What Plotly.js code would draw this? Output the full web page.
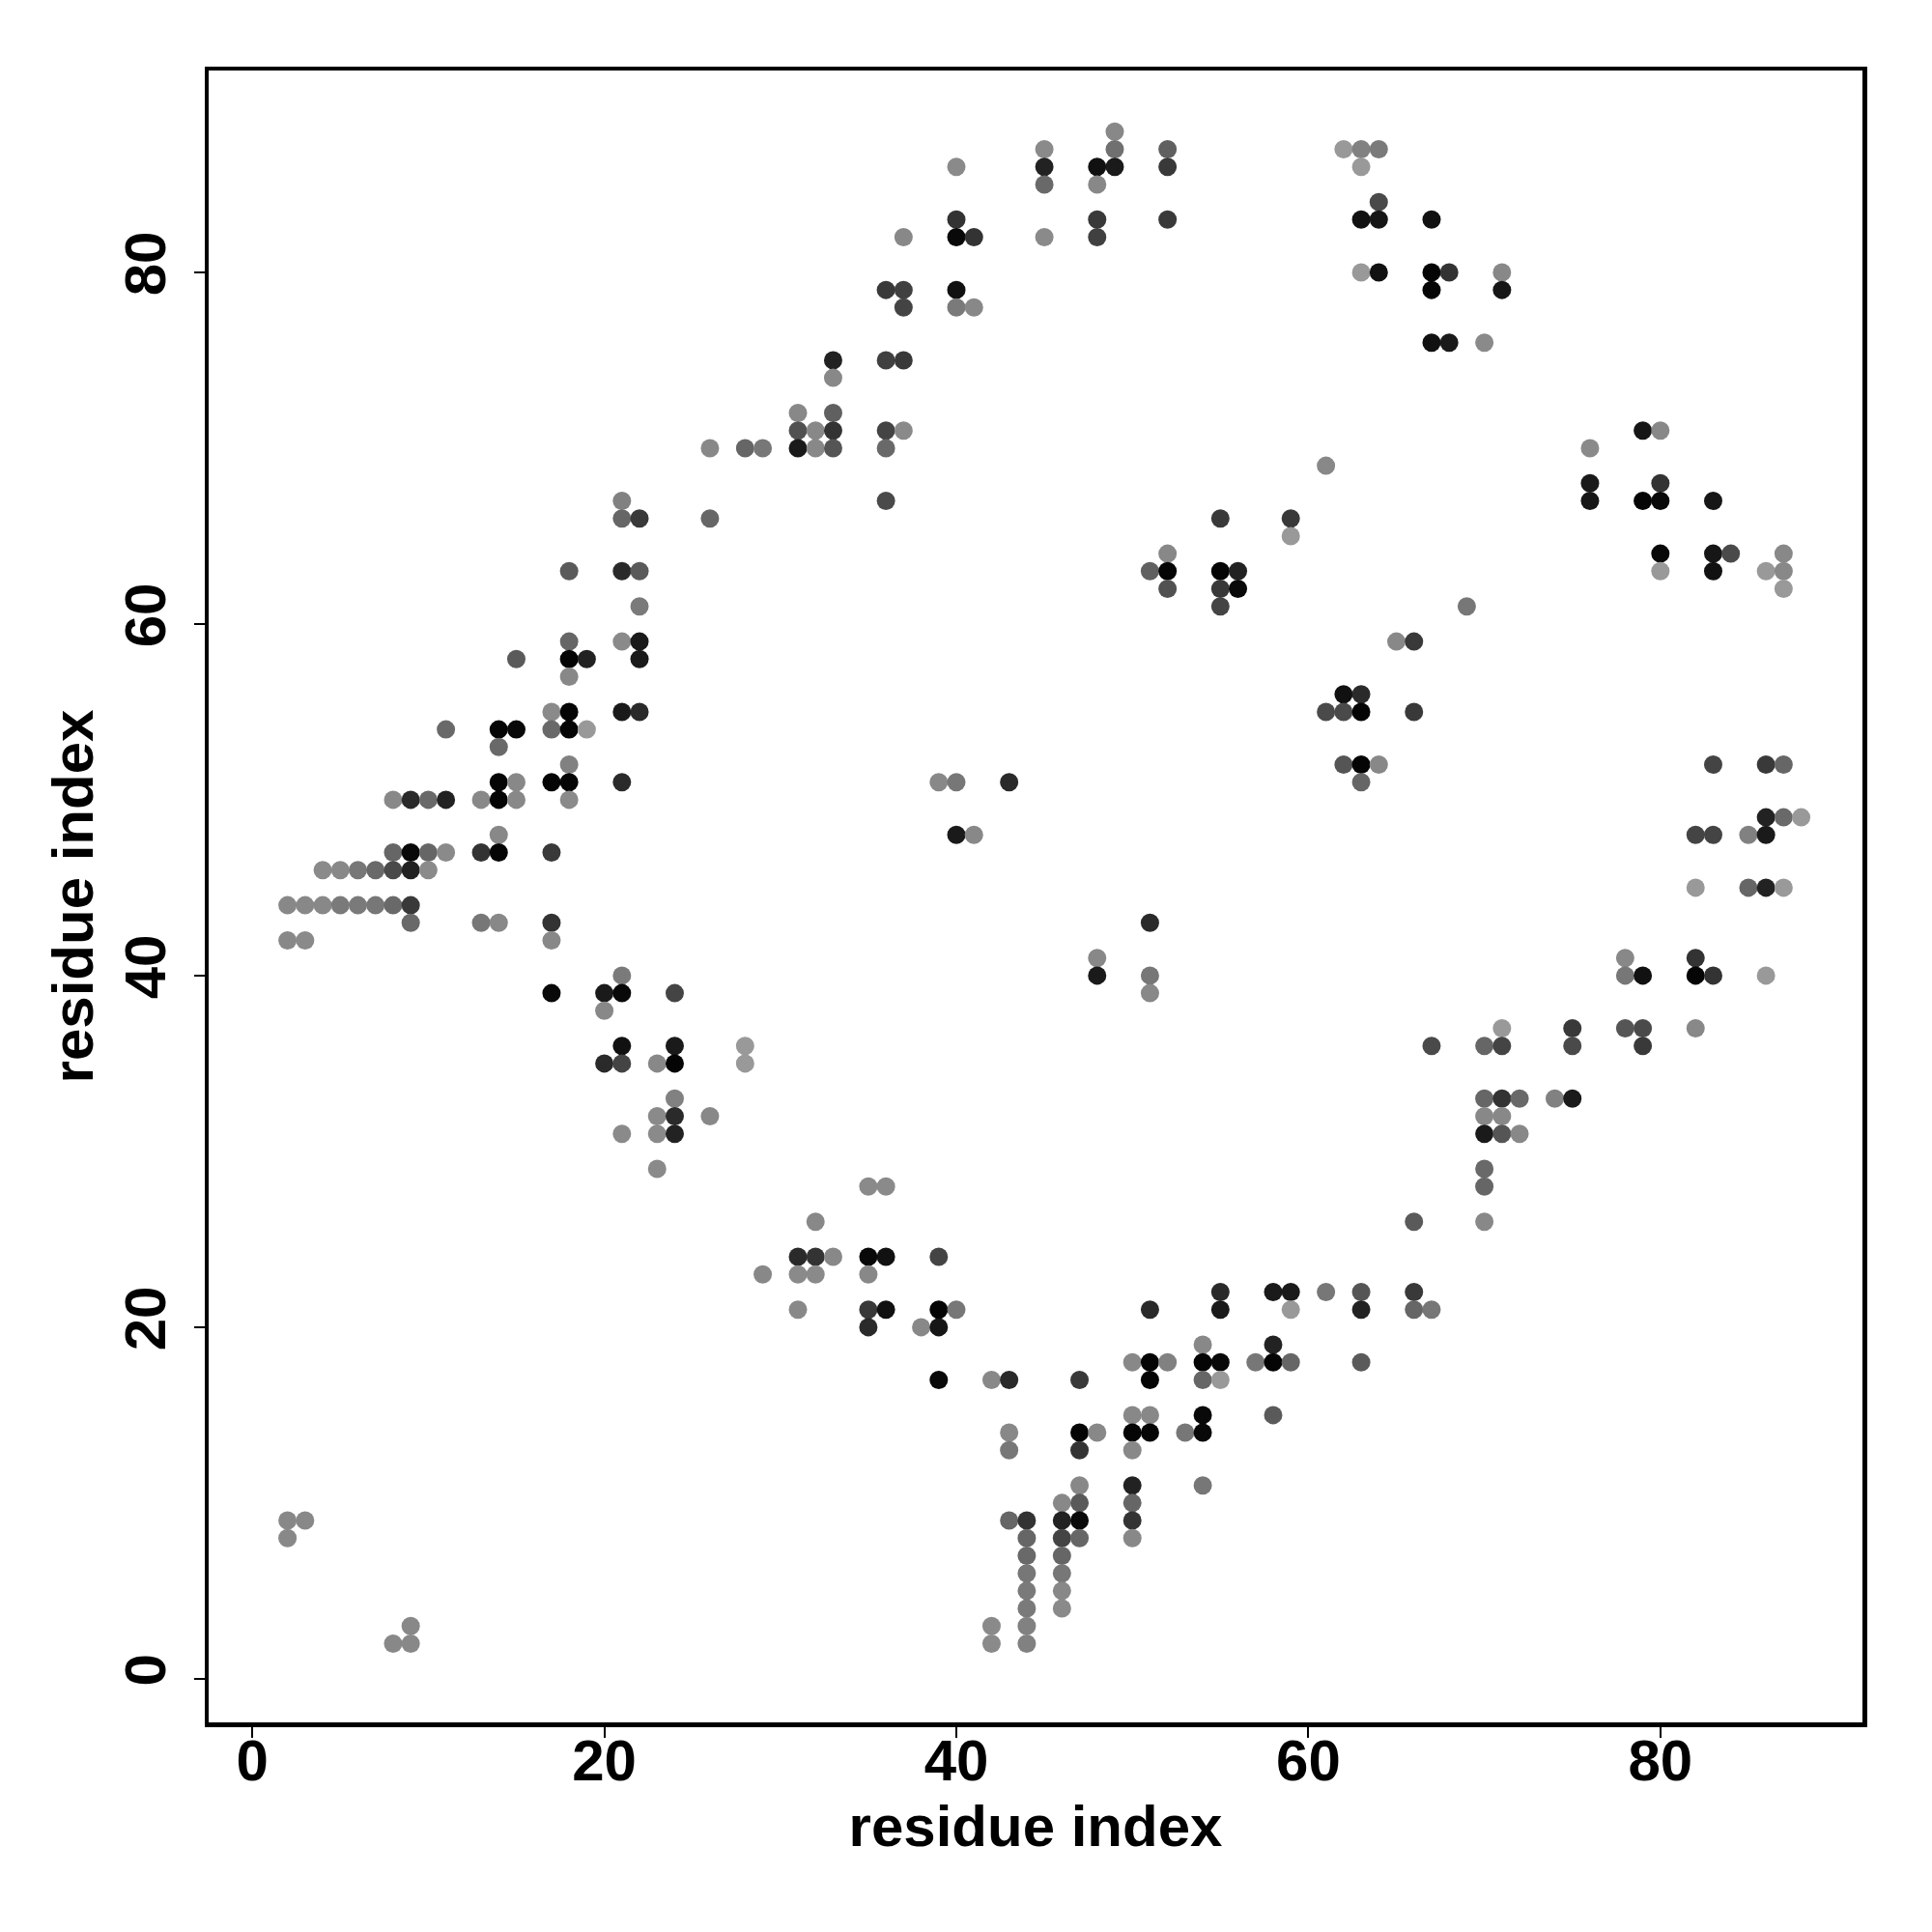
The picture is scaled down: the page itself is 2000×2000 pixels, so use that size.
<!DOCTYPE html>
<html>
<head>
<meta charset="utf-8">
<script src="https://cdn.plot.ly/plotly-3.0.1.min.js"></script>
<style>html,body{margin:0;padding:0;background:#fff;}</style>
</head>
<body>
<div id="chart" style="width:2000px;height:2000px;"></div>
<script>
// residue pair (i, j) and contact probability (darker = higher)
const resI = [
2,2,2,2, 3,3,3, 4,4, 5,5, 6,6, 7,7,
8,8,8,8,8, 9,9,9,9,9,9,9, 10,10,10, 11,11,11, 13,13,13,
14,14,14,14,14,14,14, 15,15,15,15, 17,17,17,17,17,17,17,
18,18,18,18,18,18,18,18,18, 19,19, 20,20,20,
21,21,21,21,21,21,21,21,21,21,21, 22,22,22,22,22,22, 23,23,23,23,
24,24,24,24,24,24, 26,26,26, 28,28,28, 29,29,
31,31,31,31,31,31, 32,32,32,32,32, 33,33,33,33,33,33,
35,35,35,35,35, 36,36,36,36,36,36,36,36, 37,37,37,37,37, 38,
39,39,39,39,39, 40,40,40,40,40,40,40,40, 41,41,41, 42,42,42,
43,43,43,43,43, 44,44,44,44,44,44,44,44, 45,45,45,45,
46,46,46,46,46,46,46, 47,47,47,47,47,47,47, 48,48,48,48,48,48,48,
49,49,49, 50,50,50,50,50,50,50,50, 51,51,51,51,51,51,51,51,51,
52,52,52,52,52,52,52, 53, 54,54,54,54,54,54, 55,55,55,55,55,55,55,55,
56,56, 57, 58,58,58,58, 59,59,59,59,59, 61,61,61, 62,62,62,62,
63,63,63,63,63,63,63,63,63,63,63, 64,64,64,64,64, 65,
66,66,66,66,66, 67,67,67,67,67,67, 68,68, 69,
70,70,70,70,70,70,70,70, 71,71,71,71,71,71,71, 72,72, 74,
75,75,75, 76,76,76, 78,78,78, 79,79,79,79,79, 80,80,80,80,80,
82,82,82,82,82, 83,83,83,83,83,83, 84, 85,85,
86,86,86,86,86,86, 87,87,87,87,87,87, 88
];
const resJ = [
44,42,9,8, 44,42,9, 46,44, 46,44, 46,44, 46,44,
50,47,46,44,2, 50,47,46,44,43,3,2, 50,47,46, 54,50,47, 50,47,43,
54,53,51,50,48,47,43, 58,54,51,50, 55,54,51,47,43,42,39,
63,59,58,57,55,54,52,51,50, 58,54, 39,38,35,
67,66,63,59,55,51,40,39,36,35,31, 66,63,61,59,58,55, 35,32,31,29,
39,36,35,33,32,31, 70,66,32, 70,36,35, 70,23,
72,71,70,24,23,21, 71,70,26,24,23, 75,74,72,71,70,24,
28,24,23,21,20, 79,75,71,70,67,28,24,21, 82,79,78,75,71, 20,
51,24,21,20,17, 86,83,82,79,78,51,48,21, 82,78,48, 17,3,2,
51,17,14,13,9, 9,8,7,6,5,4,3,2, 87,86,85,82,
10,9,8,7,6,5,4, 17,14,13,11,10,9,8, 86,85,83,82,41,40,14,
88,87,86, 18,15,14,13,11,10,9,8, 63,43,40,39,21,18,17,15,14,
87,86,83,64,63,62,18, 14, 19,18,17,15,14,11, 66,63,62,61,22,21,18,17,
63,62, 18, 22,19,18,15, 66,65,22,21,18, 69,55,22, 87,56,55,52,
87,86,83,80,56,55,52,51,22,21,18, 87,84,83,80,52, 59,
59,55,26,22,21, 83,80,79,76,36,21, 80,76, 61,
76,36,33,32,31,29,28,26, 80,79,37,36,33,32,31, 33,31, 33,
37,36,33, 70,68,67, 41,40,37, 71,67,40,37,36, 71,68,67,64,63,
48,45,41,40,37, 67,64,63,52,48,40, 64, 48,45,
63,52,49,48,45,40, 64,63,62,52,49,45, 49
];
const prob = [
.12,.12,.12,.12, .12,.11,.12, .11,.12, .12,.21, .23,.21, .32,.23,
.12,.34,.52,.32,.12, .73,.94,.78,.63,.32,.12,.12, .32,.34,.11, .32,.78,.11, .12,.67,.23,
.97,.32,.97,.97,.12,.97,.12, .42,.94,.12,.12, .11,.32,.97,.63,.67,.12,.94,
.42,.34,.97,.12,.97,.97,.17,.97,.11, .78,.01, .83,.12,.73,
.17,.34,.73,.11,.83,.73,.21,.94,.89,.56,.11, .63,.42,.21,.83,.83,.73, .12,.11,.11,.11,
.56,.83,.97,.17,.73,.78, .12,.34,.12, .34,.01,.01, .23,.12,
.12,.48,.83,.73,.11,.12, .12,.12,.12,.67,.11, .78,.12,.38,.67,.45,.12,
.11,.94,.12,.63,.73, .63,.59,.56,.32,.52,.11,.89,.89, .12,.59,.56,.63,.11, .12,
.12,.56,.97,.86,.94, .11,.67,.94,.89,.21,.23,.83,.23, .67,.12,.12, .12,.11,.11,
.73,.73,.12,.23,.34, .67,.34,.32,.23,.21,.21,.17,.17, .11,.78,.32,.11,
.12,.78,.56,.34,.23,.12,.11, .63,.97,.67,.12,.42,.94,.34, .89,.12,.63,.59,.12,.83,.12,
.12,.28,.83, .12,.12,.97,.12,.78,.34,.67,.12, .38,.73,.23,.12,.73,.97,.97,.12,.97,
.38,.63,.63,.12,.97,.48,.17, .23, .12,.97,.34,.94,.94,.23, .63,.97,.63,.56,.73,.83,.94,.01,
.78,.94, .23, .83,.78,.97,.42, .63,.01,.83,.01,.34, .12,.52,.23, .01,.89,.52,.45,
.17,.01,.89,.01,.73,.97,.97,.34,.45,.78,.42, .21,.52,.86,.89,.12, .12,
.63,.63,.42,.63,.34, .89,.97,.97,.89,.52,.23, .67,.83, .23,
.11,.34,.34,.12,.83,.32,.34,.12, .12,.86,.01,.56,.67,.12,.45, .32,.12, .17,
.63,.52,.83, .11,.83,.86, .12,.23,.45, .86,.97,.89,.52,.63, .12,.67,.94,.94,.01,
.56,.01,.67,.97,.12, .86,.86,.89,.56,.56,.67, .52, .17,.34,
.01,.63,.78,.83,.78,.01, .12,.12,.01,.34,.32,.01, .01
];
const tickVals = [0, 20, 40, 60, 80];
const axisTitle = 'residue index';

const fontFam = 'Liberation Sans, Arial, Helvetica, sans-serif';
const tickFont = {family: fontFam, size: 60, weight: 'bold', color: '#000'};
const titleFont = {family: fontFam, size: 60, weight: 'bold', color: '#000'};

const trace = {
  type: 'scatter',
  mode: 'markers',
  x: resI,
  y: resJ,
  marker: {
    size: 19,
    color: prob,
    cmin: 0, cmax: 1,
    colorscale: [[0, 'rgb(155,155,155)'], [1, 'rgb(0,0,0)']],
    showscale: false,
    line: {width: 0}
  },
  hoverinfo: 'x+y'
};

function axis(extra) {
  return Object.assign({
    range: [-2.48, 91.48],
    tickmode: 'array',
    tickvals: tickVals,
    ticktext: tickVals.map(String),
    ticks: 'outside',
    ticklen: 11,
    tickwidth: 2,
    tickcolor: '#000',
    showline: true,
    linewidth: 4.5,
    linecolor: '#000',
    mirror: true,
    showgrid: false,
    zeroline: false,
    tickfont: tickFont
  }, extra);
}

const layout = {
  width: 2000,
  height: 2000,
  margin: {l: 216, r: 72, t: 73, b: 217, pad: 0},
  paper_bgcolor: '#fff',
  plot_bgcolor: '#fff',
  showlegend: false,
  xaxis: axis({ticklabelstandoff: -28, title: {text: axisTitle, standoff: 16, font: titleFont}}),
  yaxis: axis({tickangle: -90, ticklabelstandoff: 6, title: {text: axisTitle, standoff: 2, font: titleFont}})
};

Plotly.newPlot('chart', [trace], layout, {staticPlot: true, displayModeBar: false});
</script>
</body>
</html>
